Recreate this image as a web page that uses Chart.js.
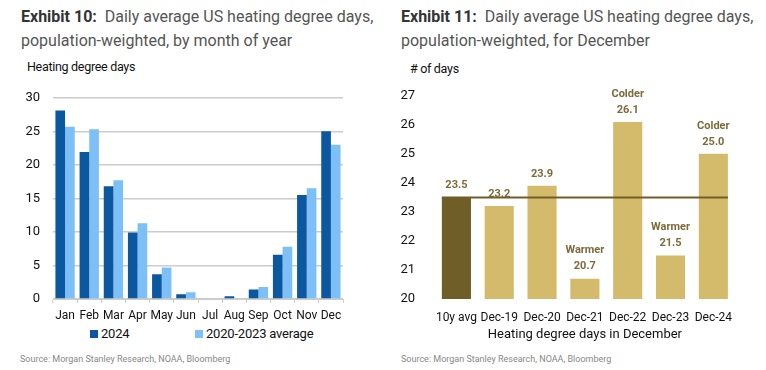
<!DOCTYPE html>
<html>
<head>
<meta charset="utf-8">
<script src="https://cdn.jsdelivr.net/npm/chart.js@4"></script>
<style>
  body { margin: 0; width: 766px; height: 370px; background: #fff; position: relative; overflow: hidden;
         font-family: Roboto, "Noto Sans", sans-serif; }
  .title { position: absolute; top: 5px; font-size: 16px; line-height: 24px; color: #555; }
  .title b { color: #333; }
  .axlab { position: absolute; font-family: Roboto, sans-serif; font-size: 12.5px; color: #111; letter-spacing: -0.3px; }
  .src { position: absolute; top: 354px; font-size: 9px; color: #888; }
  .leg { position: absolute; top: 326px; font-family: Roboto, sans-serif; font-size: 13px; color: #111; letter-spacing: -0.2px; }
  .leg span { display: inline-block; width: 8px; height: 8px; margin-right: 3px; }
  canvas { position: absolute; }
</style>
</head>
<body>
<div class="title" style="left:21px"><b>Exhibit 10:</b>&nbsp; Daily average US heating degree days,<br>population-weighted, by month of year</div>
<div class="title" style="left:401px"><b>Exhibit 11:</b>&nbsp; Daily average US heating degree days,<br>population-weighted, for December</div>
<div class="axlab" style="left:27px;top:59px">Heating degree days</div>
<div class="axlab" style="left:410px;top:61px"># of days</div>
<div class="leg" style="left:90px"><span style="background:#0b57a0"></span>2024</div>
<div class="leg" style="left:195px"><span style="background:#7cc0f7"></span>2020-2023 average</div>
<div class="src" style="left:20px">Source: Morgan Stanley Research, NOAA, Bloomberg</div>
<div class="src" style="left:401px">Source: Morgan Stanley Research, NOAA, Bloomberg</div>

<div style="position:absolute;left:0;top:77px;width:350px;height:247px"><canvas id="months"></canvas></div>
<div style="position:absolute;left:400px;top:76px;width:336px;height:267px"><canvas id="december"></canvas></div>

<script>
const months = ["Jan", "Feb", "Mar", "Apr", "May", "Jun", "Jul", "Aug", "Sep", "Oct", "Nov", "Dec"];
const hdd2024 = [28.1, 21.9, 16.8, 9.9, 3.7, 0.7, 0.1, 0.4, 1.4, 6.6, 15.5, 25.0];
const hddAvg = [25.7, 25.3, 17.7, 11.3, 4.7, 1.0, 0.1, 0.1, 1.8, 7.8, 16.5, 23.0];

const decLabels = ["10y avg", "Dec-19", "Dec-20", "Dec-21", "Dec-22", "Dec-23", "Dec-24"];
const decValues = [23.5, 23.2, 23.9, 20.7, 26.1, 21.5, 25.0];
const decNotes = ["", "", "", "Warmer", "Colder", "Warmer", "Colder"];
const tenYearAvg = 23.5;

const font = "Roboto, sans-serif";
Chart.defaults.font.family = font;
Chart.defaults.color = "#111";

new Chart(document.getElementById("months"), {
  type: "bar",
  data: {
    labels: months,
    datasets: [
      { label: "2024", data: hdd2024, backgroundColor: "#0b57a0" },
      { label: "2020-2023 average", data: hddAvg, backgroundColor: "#7cc0f7" },
    ],
  },
  options: {
    responsive: true,
    maintainAspectRatio: false,
    animation: false,
    layout: { padding: { top: 10, right: 7 } },
    plugins: { legend: { display: false }, tooltip: { enabled: false } },
    datasets: { bar: { categoryPercentage: 0.8, barPercentage: 1 } },
    scales: {
      x: {
        grid: { offset: true, drawOnChartArea: false, tickLength: 4, color: "#ccc" },
        border: { color: "#ccc" },
        ticks: { font: { size: 12 }, padding: 6, maxRotation: 0, autoSkip: false },
        afterFit: (s) => { s.height = 25; },
      },
      y: {
        min: 0,
        max: 30,
        ticks: { stepSize: 5, font: { size: 13 }, padding: 13 },
        grid: { color: "#ccc", drawTicks: false, lineWidth: 1.5 },
        border: { display: false },
        afterFit: (s) => { s.width = 53; },
      },
    },
  },
});

const barNotes = {
  id: "barNotes",
  afterDatasetsDraw(chart) {
    const ctx = chart.ctx;
    const meta = chart.getDatasetMeta(0);
    ctx.save();
    ctx.fillStyle = "#7d6a3a";
    ctx.font = "bold 11px " + font;
    ctx.textAlign = "center";
    ctx.textBaseline = "middle";
    meta.data.forEach((bar, i) => {
      const y = bar.y - 12;
      ctx.fillText(decValues[i].toFixed(1), bar.x, y);
      if (decNotes[i]) ctx.fillText(decNotes[i], bar.x, y - 16);
    });
    ctx.restore();
  },
};

const avgLine = {
  id: "avgLine",
  afterDatasetsDraw(chart) {
    const meta = chart.getDatasetMeta(0);
    const first = meta.data[0];
    const last = meta.data[meta.data.length - 1];
    const y = chart.scales.y.getPixelForValue(tenYearAvg);
    const ctx = chart.ctx;
    ctx.save();
    ctx.strokeStyle = "#6f5e28";
    ctx.lineWidth = 2;
    ctx.beginPath();
    ctx.moveTo(first.x - first.width / 2, y);
    ctx.lineTo(last.x + last.width / 2, y);
    ctx.stroke();
    ctx.restore();
  },
};

new Chart(document.getElementById("december"), {
  type: "bar",
  data: {
    labels: decLabels,
    datasets: [
      {
        data: decValues,
        backgroundColor: decValues.map((v, i) => (i === 0 ? "#6f5e28" : "#d4bb6c")),
        categoryPercentage: 1,
        barPercentage: 0.68,
      },
    ],
  },
  options: {
    responsive: true,
    maintainAspectRatio: false,
    animation: false,
    layout: { padding: { top: 10 } },
    plugins: { legend: { display: false }, tooltip: { enabled: false } },
    scales: {
      x: {
        grid: { display: false },
        border: { display: false },
        ticks: { font: { size: 12 }, padding: 4, maxRotation: 0, autoSkip: false },
        title: { display: true, text: "Heating degree days in December", font: { size: 13 }, padding: 0 },
        afterFit: (s) => { s.height = 44; },
      },
      y: {
        min: 20,
        max: 27,
        ticks: { stepSize: 1, font: { size: 13 }, padding: 12 },
        grid: { display: false },
        border: { display: false },
        afterFit: (s) => { s.width = 35; },
      },
    },
  },
  plugins: [avgLine, barNotes],
});
</script>
</body>
</html>
